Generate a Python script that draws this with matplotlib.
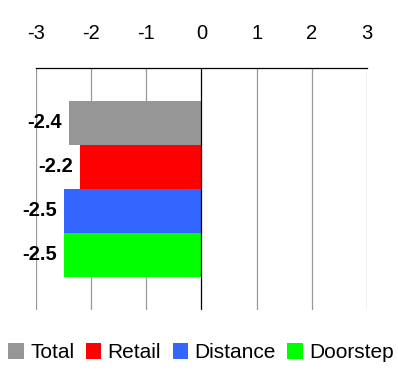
import matplotlib
matplotlib.use("Agg")
import matplotlib.pyplot as plt

plt.rcParams['font.family'] = ['Liberation Sans', 'DejaVu Sans']

series = ["Total", "Retail", "Distance", "Doorstep"]
values = [-2.4, -2.2, -2.5, -2.5]
colors = ["#969696", "#ff0000", "#3366ff", "#00ff00"]
ticks = [-3, -2, -1, 0, 1, 2, 3]
tick_labels = ["-3", "-2", "-1", "0", "1", "2", "3"]

fig = plt.figure(figsize=(3.98, 3.72), dpi=100)
ax = fig.add_axes([0.0905, 0.167, 0.8315, 0.650])

bar_h = 0.182
n = len(series)
for i, (name, v, c) in enumerate(zip(series, values, colors)):
    y = (i - (n - 1) / 2) * bar_h
    ax.barh(y, v, height=bar_h, color=c, label=name, zorder=2)
    ax.annotate(f"{v:.1f}", xy=(v, y), xytext=(-5, 0), textcoords="offset points",
                ha="right", va="center", fontsize=14.5, fontweight="bold")

ax.set_xlim(-3, 3)
ax.set_ylim(0.5, -0.5)
ax.set_xticks(ticks)
ax.set_xticklabels(tick_labels, fontsize=14.5)
ax.xaxis.tick_top()
ax.tick_params(axis="x", length=0, pad=18)
ax.set_yticks([])

for t in ticks:
    ax.axvline(t, color="#000000" if t == 0 else "#999999", lw=0.9, zorder=1 if t != 0 else 3)

for side in ["left", "right", "bottom"]:
    ax.spines[side].set_visible(False)
ax.spines["top"].set_color("#000000")
ax.spines["top"].set_linewidth(0.9)

fig.legend(loc="center", bbox_to_anchor=(0.505, 0.052), ncol=4, frameon=False,
           fontsize=15, handlelength=0.75, handleheight=0.75, handletextpad=0.3,
           columnspacing=0.55, borderaxespad=0)

fig.savefig("out.png", dpi=100)
